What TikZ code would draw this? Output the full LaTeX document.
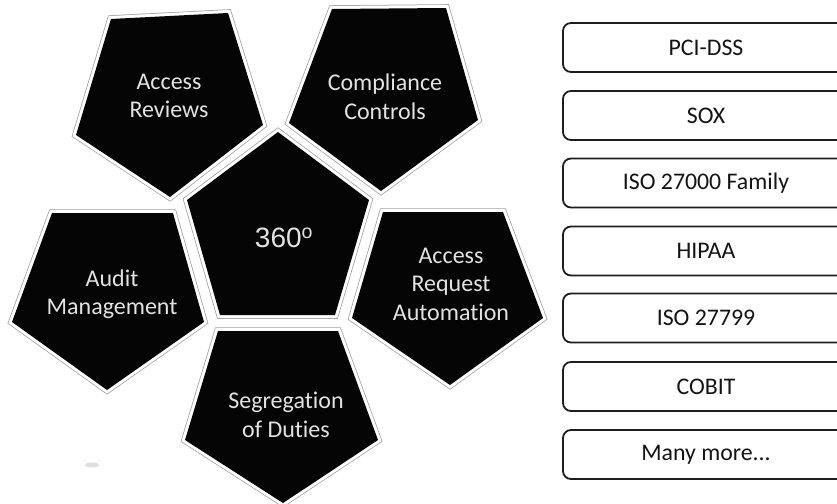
\documentclass[tikz,border=0pt]{standalone}
\usepackage{fontspec}
\setmainfont{Carlito}[Ligatures={NoCommon}]
\newfontfamily\arialfont{Liberation Sans}
\definecolor{pentfill}{HTML}{050505}
\definecolor{pentedge}{HTML}{A0A0A0}
\definecolor{pentbody}{HTML}{E2E2E2}
\definecolor{boxline}{HTML}{1E1E1E}
\definecolor{boxtext}{HTML}{141414}
\tikzset{
  penttext/.style={text=pentbody, font=\fontsize{24}{28.5}\selectfont, align=center, inner sep=0pt},
  stdbox/.style={draw=boxline, line width=1.8pt, rounded corners=8pt, fill=white,
    minimum width=286pt, minimum height=49pt, inner sep=0pt, text=boxtext,
    font=\fontsize{23.8}{28}\selectfont},
}
\newcommand\mypent[5]{%
  \draw[pentedge, line width=7.5pt] #1--#2--#3--#4--#5--cycle;
  \draw[white, line width=6pt] #1--#2--#3--#4--#5--cycle;
  \fill[pentfill] #1--#2--#3--#4--#5--cycle;}
\begin{document}
\begin{tikzpicture}[x=1pt, y=-1pt]
\useasboundingbox (0,0) rectangle (837,503);
\clip (0,0) rectangle (837,503);
\fill[white] (0,0) rectangle (837,503);

% outer pentagons
\mypent{(111,19)}{(228,13)}{(263,125)}{(170,197)}{(76,135)}
\mypent{(332,9)}{(446,8)}{(478,120)}{(381,191)}{(289,123)}
\mypent{(52,213)}{(173,213)}{(204,322)}{(107,390)}{(12,322)}
\mypent{(383,212)}{(503,212)}{(543,318)}{(450,385)}{(352,318)}
\mypent{(218,331)}{(338,331)}{(378,440)}{(283,503)}{(185,440)}
% central pentagon
\mypent{(278,132)}{(369,200)}{(335,315)}{(220,315)}{(187,200)}

\node[penttext] (ar) at (169,96) {Access\\Reviews};
\node[penttext] (cc) at (385,97) {Compliance\\Controls};
\node[penttext, font=\arialfont\fontsize{28}{32}\selectfont] (c360) at (284,238) {360\textsuperscript{o}};
\node[penttext] (am) at (112,294) {Audit\\Management};
\node[penttext] (ara) at (451,284) {Access\\Request\\Automation};
\node[penttext] (sod) at (286,415) {Segregation\\of Duties};

\fill[gray!25] (92,465) ellipse (7 and 2.5);

% standards boxes
\node[stdbox] (b1) at (706,47.5) {PCI-DSS};
\node[stdbox] (b2) at (706,115.5) {SOX};
\node[stdbox] (b3) at (706,183) {ISO 27000 Family};
\node[stdbox] (b4) at (706,251) {HIPAA};
\node[stdbox] (b5) at (706,318) {ISO 27799};
\node[stdbox] (b6) at (706,386.5) {COBIT};
\node[stdbox] (b7) at (706,454.5) {Many more...};
\end{tikzpicture}
\end{document}
